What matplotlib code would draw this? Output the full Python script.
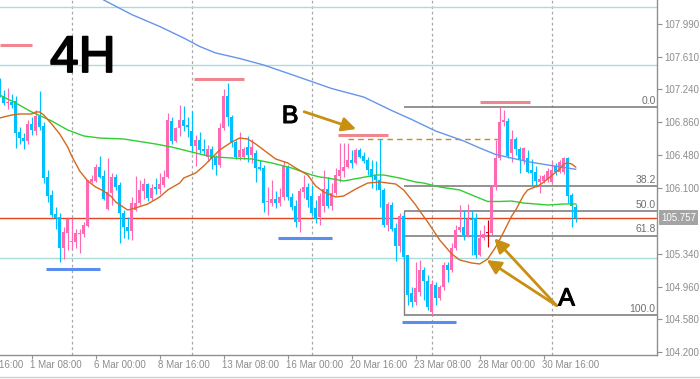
import matplotlib
matplotlib.use('Agg')
import matplotlib.pyplot as plt
from matplotlib.transforms import blended_transform_factory
from matplotlib.lines import Line2D
import matplotlib.patheffects as pe

plt.rcParams['font.family'] = ['Liberation Sans', 'DejaVu Sans']

# ---------------- data (4H candles, bar index 0..144) ----------------
opens = [107.323,107.162,107.081,107.092,107.104,106.746,106.676,106.642,106.838,106.757,
         106.931,106.815,106.226,106.018,105.798,105.764,105.405,105.579,105.475,105.475,
         105.567,105.567,105.660,106.168,106.180,106.341,106.237,105.856,106.041,106.226,
         106.133,105.810,105.648,105.602,105.844,105.925,106.064,106.145,105.983,106.110,
         106.087,106.133,106.226,106.873,106.642,106.792,106.884,106.827,106.757,106.584,
         106.653,106.549,106.457,106.549,106.457,106.365,106.792,107.162,106.919,106.630,
         106.457,106.457,106.572,106.480,106.503,106.341,106.330,105.937,105.925,105.972,
         105.925,105.995,106.341,105.995,105.891,105.706,106.053,106.110,106.006,105.868,
         105.764,105.891,106.087,105.891,106.041,106.237,106.295,106.341,106.422,106.388,
         106.538,106.468,106.422,106.318,106.249,106.191,106.076,105.671,105.902,105.636,
         105.428,105.775,105.325,104.885,104.781,104.897,105.151,105.024,104.666,104.978,
         104.827,104.955,105.209,105.151,105.405,105.613,105.648,105.556,105.741,105.752,
         105.325,105.521,105.579,105.579,106.110,106.445,106.861,106.873,106.503,106.665,
         106.549,106.422,106.445,106.307,106.284,106.168,106.180,106.191,106.168,106.353,
         106.284,106.284,106.445,106.018,105.879]
highs = [107.370,107.231,107.254,107.185,107.162,106.803,106.734,106.884,106.919,107.000,
         107.220,106.861,106.307,106.076,105.879,105.810,105.648,105.764,105.752,105.625,
         105.625,105.706,106.191,106.249,106.376,106.468,106.307,106.445,106.272,106.260,
         106.168,105.844,105.764,105.995,106.237,106.191,106.214,106.156,106.145,106.214,
         106.272,106.307,106.965,106.919,106.803,107.058,107.046,106.919,106.988,106.711,
         106.746,106.665,106.595,106.584,106.480,106.850,107.243,107.312,106.942,106.653,
         106.746,106.572,106.700,106.665,106.538,106.422,106.365,106.110,106.191,106.064,
         106.099,106.411,106.365,106.041,105.960,106.099,106.249,106.156,106.133,105.960,
         106.041,106.307,106.226,106.156,106.330,106.619,106.619,106.619,106.538,106.561,
         106.561,106.515,106.457,106.422,106.411,106.665,106.099,105.937,105.937,105.694,
         105.810,105.798,105.325,104.955,105.244,105.267,105.186,105.093,105.036,105.013,
         104.978,105.244,105.244,105.463,105.671,105.902,105.844,105.914,105.844,105.810,
         105.613,105.671,105.729,106.133,106.653,107.035,107.000,106.908,106.769,106.688,
         106.572,106.572,106.538,106.434,106.353,106.249,106.260,106.330,106.399,106.388,
         106.422,106.457,106.457,106.041,105.914]
lows = [107.150,107.058,107.012,107.023,106.561,106.607,106.549,106.607,106.711,106.711,
        106.769,106.156,105.937,105.764,105.625,105.244,105.278,105.382,105.394,105.405,
        105.348,105.532,105.648,106.156,106.168,106.214,105.960,105.844,105.902,106.076,
        105.463,105.521,105.509,105.498,105.833,105.902,105.972,105.948,105.960,106.029,
        106.029,106.110,106.214,106.607,106.630,106.700,106.757,106.688,106.503,106.353,
        106.503,106.480,106.411,106.318,106.249,106.341,106.769,106.815,106.572,106.434,
        106.422,106.434,106.399,106.388,106.168,106.307,105.821,105.787,105.891,105.868,
        105.891,105.960,105.960,105.844,105.648,105.590,105.983,105.879,105.787,105.694,
        105.671,105.821,105.868,105.844,106.018,106.168,106.226,106.330,106.330,106.376,
        106.445,106.388,106.249,106.099,106.076,105.879,105.648,105.602,105.602,105.255,
        105.359,105.267,104.747,104.724,104.747,104.850,104.805,104.689,104.631,104.747,
        104.805,104.920,105.013,105.128,105.382,105.590,105.498,105.532,105.325,105.290,
        105.313,105.498,105.417,105.556,106.076,106.422,106.815,106.445,106.399,106.480,
        106.272,106.376,106.272,106.133,106.110,106.041,106.156,106.168,106.156,106.249,
        106.272,106.260,105.925,105.648,105.706]
closes = [107.185,107.081,107.092,107.058,106.734,106.676,106.642,106.838,106.769,106.931,
          106.803,106.214,106.006,105.787,105.752,105.405,105.590,105.741,105.486,105.579,
          105.579,105.671,106.191,106.203,106.341,106.226,105.972,106.053,106.226,106.110,
          105.810,105.648,105.602,105.925,105.925,106.076,106.145,105.983,106.099,106.087,
          106.145,106.226,106.884,106.642,106.792,106.884,106.815,106.803,106.584,106.653,
          106.538,106.526,106.549,106.434,106.365,106.792,107.162,106.919,106.619,106.457,
          106.538,106.549,106.480,106.572,106.330,106.318,105.925,105.948,105.972,105.925,
          105.995,106.353,105.995,105.879,105.706,106.064,106.110,105.960,105.810,105.741,
          106.006,106.087,105.891,106.041,106.249,106.307,106.341,106.422,106.388,106.538,
          106.457,106.411,106.307,106.226,106.191,106.076,105.671,105.914,105.625,105.428,
          105.775,105.301,104.862,104.781,104.943,105.151,105.024,104.724,104.989,104.827,
          104.955,105.209,105.151,105.405,105.613,105.648,105.556,105.741,105.729,105.325,
          105.521,105.567,105.579,106.110,106.445,106.861,106.884,106.468,106.665,106.549,
          106.434,106.561,106.284,106.272,106.180,106.203,106.237,106.295,106.307,106.284,
          106.399,106.445,106.006,105.891,105.757]

# moving averages (bar index, value)
ma_fast_idx = [0,3,5,8,9,10,11,13,15,17,18,20,22,24,26,28,29,32,34,37,40,42,45,46,49,51,53,55,58,60,
               62,64,67,69,72,74,77,79,81,84,86,89,92,95,99,101,104,105,107,110,113,115,118,120,122,
               124,126,128,129,131,132,135,137,140,141,142,143,144]
ma_fast = [106.908,106.942,106.954,106.954,106.977,106.977,106.942,106.838,106.723,106.572,
           106.468,106.295,106.180,106.110,106.064,105.995,105.937,105.844,105.868,105.914,
           105.995,106.076,106.156,106.214,106.272,106.353,106.445,106.538,106.630,106.676,
           106.665,106.607,106.503,106.434,106.388,106.330,106.249,106.122,106.053,105.995,
           106.006,106.087,106.156,106.168,106.145,106.076,105.902,105.833,105.706,105.498,
           105.336,105.267,105.232,105.221,105.278,105.417,105.590,105.775,105.844,106.018,
           106.076,106.133,106.203,106.318,106.376,106.388,106.376,106.341]
ma_mid_idx = [0,4,8,13,17,21,25,31,35,39,43,47,51,54,58,63,68,73,78,80,82,86,90,94,96,100,104,106,
              110,115,118,122,125,128,131,134,137,141,144]
ma_mid = [107.173,107.081,106.977,106.873,106.769,106.700,106.676,106.665,106.636,106.607,
          106.572,106.526,106.480,106.457,106.445,106.434,106.388,106.330,106.249,106.226,
          106.214,106.180,106.214,106.249,106.249,106.214,106.168,106.156,106.110,106.076,
          106.018,105.943,105.943,105.948,105.925,105.914,105.902,105.914,105.914]
ma_slow_idx = [26,33,40,46,50,54,60,66,74,83,91,98,103,109,116,120,124,132,137,144]
ma_slow = [108.271,108.103,107.965,107.832,107.734,107.659,107.595,107.520,107.393,107.248,
           107.150,106.994,106.890,106.757,106.642,106.561,106.486,106.403,106.365,106.315]

# horizontal levels
cyan_levels = [108.190, 107.520, 105.286]
current_price = 105.757
fib_high, fib_low = 107.035, 104.631
fib_ratios = [0.0, 38.2, 50.0, 61.8, 100.0]
fib_start = 101
b_level, b_start, b_end = 106.665, 87, 125
pink_marks = [(107.755, 0.1, 8.1), (107.358, 48.6, 61.1), (106.715, 84.6, 97.1), (107.092, 120.1, 132.6)]
blue_marks = [(105.166, 11.6, 25.1), (105.524, 69.6, 83.1), (104.554, 100.6, 114.1)]

ytick_vals = [107.990, 107.610, 107.240, 106.860, 106.480, 106.100, 105.340, 104.960, 104.580, 104.200]
xtick_bars = [-8, 8, 24, 40, 56, 72, 88, 104, 120, 136]
xtick_labels = ['26 Feb 16:00', '1 Mar 08:00', '6 Mar 00:00', '8 Mar 16:00', '13 Mar 08:00',
                '16 Mar 00:00', '20 Mar 16:00', '23 Mar 08:00', '28 Mar 00:00', '30 Mar 16:00']
week_grid = [18, 48, 78, 108, 138]

# ---------------- figure ----------------
PINK = '#ff69b4'
BLUE = '#00bfff'
GOLD = '#c98f12'
GRAY = '#8c8c8c'

fig = plt.figure(figsize=(7, 3.79), dpi=100)
ax = fig.add_axes([0, 24 / 379, 657 / 700, 355 / 379])
ax.set_xlim(0.075, 164.325)
ax.set_ylim(104.169, 108.271)

for s in ['top', 'left']:
    ax.spines[s].set_visible(False)
for s in ['right', 'bottom']:
    ax.spines[s].set_color('#909090')
    ax.spines[s].set_linewidth(1.0)

# grid
for g in week_grid:
    ax.axvline(g, color='#a8a8a8', lw=0.9, ls=(0, (2.2, 2.2)), zorder=0)
for lv in cyan_levels:
    ax.axhline(lv, color='#aadcdc', lw=1.0, zorder=0.5)

# candles
n = len(opens)
idx = list(range(n))
cols, bottoms, heights = [], [], []
for o, c in zip(opens, closes):
    if c > o:
        cols.append(PINK)
    elif c < o:
        cols.append(BLUE)
    else:
        cols.append('#d00000')
    bottoms.append(min(o, c))
    heights.append(max(abs(c - o), 0.011))
ax.vlines(idx, lows, highs, colors=cols, lw=0.85, zorder=2)
ax.bar(idx, heights, bottom=bottoms, width=0.78, color=cols, linewidth=0, zorder=2)

# moving averages
ax.plot(ma_slow_idx, ma_slow, color='#6495ed', lw=1.0, zorder=3)
ax.plot(ma_mid_idx, ma_mid, color='#32cd32', lw=1.0, zorder=3)
ax.plot(ma_fast_idx, ma_fast, color='#d2691e', lw=1.0, zorder=3)

# current price
ax.axhline(current_price, color='#e2461e', lw=1.0, zorder=1.5)

# fibonacci
rng = fib_high - fib_low
for r in fib_ratios:
    lv = fib_high - rng * r / 100.0
    ax.hlines(lv, fib_start, 165, color='#808080', lw=1.2, zorder=1.6)
    ax.text(164.0, lv + 0.014, f'{r:.1f}', ha='right', va='bottom', fontsize=7.5,
            color='#707070', zorder=5)
ax.vlines(fib_start, fib_low, fib_high - rng * 0.5, color='#808080', lw=1.0, zorder=1.6)

# B level dashed
ax.hlines(b_level, b_start, b_end, color=GOLD, lw=1.0, ls=(0, (4, 3)), zorder=1.7)

# markers
for lv, a, b in pink_marks:
    ax.hlines(lv, a, b, color='#f08690', lw=2.2, zorder=4)
for lv, a, b in blue_marks:
    ax.hlines(lv, a, b, color='#5b8def', lw=2.2, zorder=4)

# annotations
ap = dict(arrowstyle='-|>,head_length=0.7,head_width=0.35', color=GOLD, lw=2.0,
          mutation_scale=12, shrinkA=0, shrinkB=0)
ax.annotate('', xy=(89.1, 106.780), xytext=(76.1, 106.980), arrowprops=ap, zorder=6)
ax.annotate('', xy=(121.75, 105.267), xytext=(139.25, 104.739), arrowprops=ap, zorder=6)
ax.annotate('', xy=(123.65, 105.517), xytext=(139.25, 104.739), arrowprops=ap, zorder=6)
heavy = [pe.withStroke(linewidth=0.8, foreground='black')]
ax.text(72.6, 106.931, 'B', fontsize=18, ha='center', va='center', color='black', zorder=6,
        path_effects=heavy)
ax.text(141.7, 104.822, 'A', fontsize=18, ha='center', va='center', color='black', zorder=6,
        path_effects=heavy)
ax.text(50 / 657, 1 - 72 / 355, '4H', transform=ax.transAxes, fontsize=37,
        ha='left', va='baseline', color='black', zorder=6,
        path_effects=[pe.withStroke(linewidth=1.3, foreground='black')])

# y axis (right)
ax.yaxis.tick_right()
ax.set_yticks(ytick_vals)
ax.set_yticklabels([f'{v:.3f}' for v in ytick_vals])
ax.tick_params(axis='y', colors='#909090', labelcolor=GRAY, labelsize=7, length=3.5,
               width=0.8, pad=2)

# price box
tb = blended_transform_factory(ax.transAxes, ax.transData)
ax.text(1.006, current_price, f'{current_price:.3f}', transform=tb, ha='left', va='center',
        fontsize=7, color='white', zorder=7,
        bbox=dict(boxstyle='square,pad=0.25', fc='#a4a4a4', ec='none'))

# x axis
vis = [b for b in xtick_bars if b >= 0]
ax.set_xticks(vis)
ax.set_xticklabels([''] * len(vis))
ax.tick_params(axis='x', colors='#909090', length=3, width=0.8)
tx = blended_transform_factory(ax.transData, ax.transAxes)
for b, lab in zip(xtick_bars, xtick_labels):
    ax.text(b - 0.3, -0.013, lab, transform=tx, ha='left', va='top', fontsize=7,
            color=GRAY, clip_on=False)

fig.add_artist(Line2D([0, 1], [2.5 / 379, 2.5 / 379], color='#cfcfcf', lw=1.0))

fig.savefig('out.png', dpi=100)
